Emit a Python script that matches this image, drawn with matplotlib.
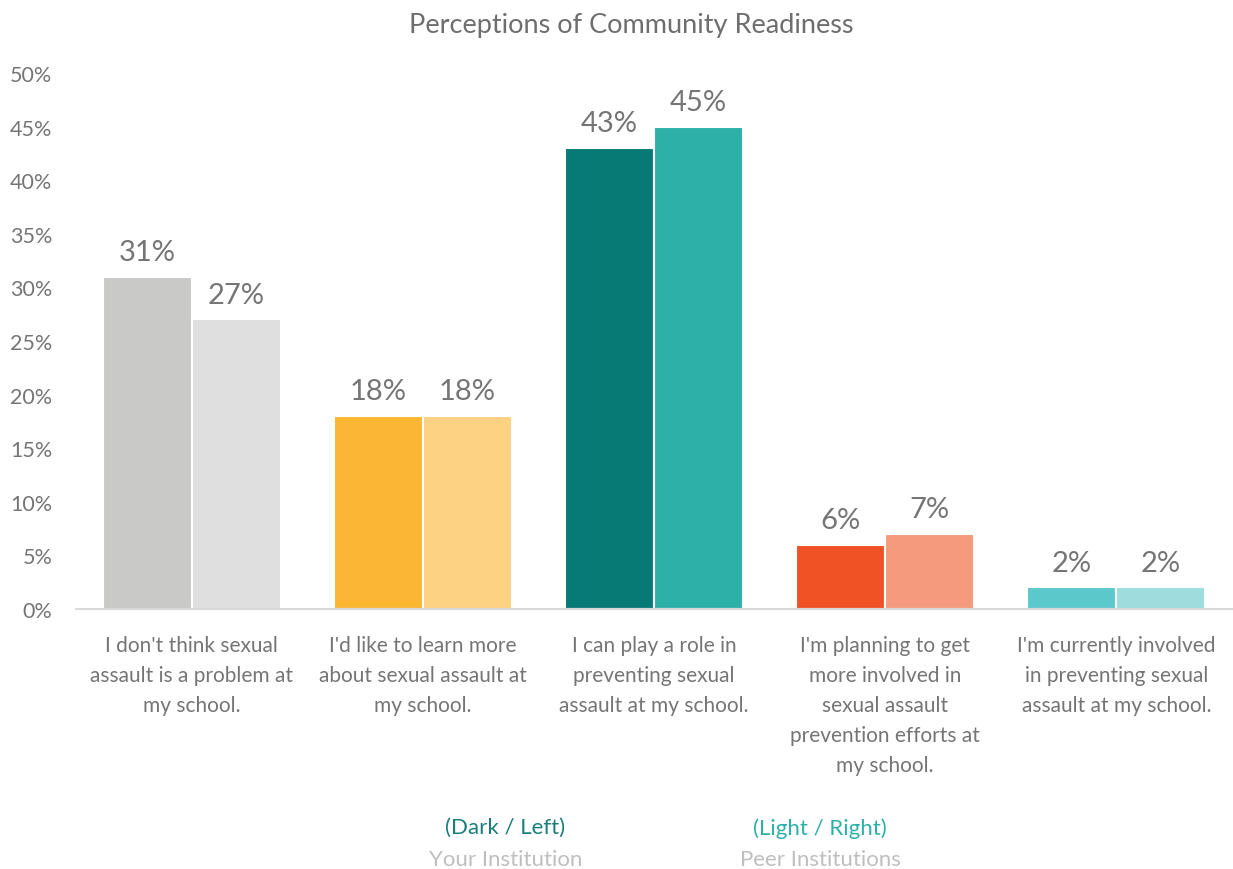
import matplotlib
matplotlib.use("Agg")
import matplotlib.pyplot as plt
import numpy as np

plt.rcParams['font.family'] = ['Lato', 'DejaVu Sans']

categories = ["I don't think sexual\nassault is a problem at\nmy school.",
              "I'd like to learn more\nabout sexual assault at\nmy school.",
              "I can play a role in\npreventing sexual\nassault at my school.",
              "I'm planning to get\nmore involved in\nsexual assault\nprevention efforts at\nmy school.",
              "I'm currently involved\nin preventing sexual\nassault at my school."]
your_inst = [31, 18, 43, 6, 2]
peer_inst = [27, 18, 45, 7, 2]
dark_colors = ["#C9C9C7", "#FBB634", "#077A76", "#F05125", "#5BC8CB"]
light_colors = ["#DFDFDF", "#FDD283", "#2DB0A8", "#F59A7D", "#9EDDDD"]

fig = plt.figure(figsize=(12.33, 8.7), dpi=100)
ax = fig.add_axes([0.0616, 0.299, 0.9375, 0.616])

x = np.arange(len(categories))
w = 0.385
ax.bar(x - w/2, your_inst, w, color=dark_colors, edgecolor="white", linewidth=1.5)
ax.bar(x + w/2, peer_inst, w, color=light_colors, edgecolor="white", linewidth=1.5)

for i in range(len(categories)):
    ax.text(x[i] - w/2, your_inst[i] + 1.1, "%d%%" % your_inst[i], ha="center", va="bottom",
            fontsize=21, color="#757575")
    ax.text(x[i] + w/2, peer_inst[i] + 1.1, "%d%%" % peer_inst[i], ha="center", va="bottom",
            fontsize=21, color="#757575")

ax.set_xlim(-0.5, 4.5)
ax.set_ylim(0, 50)
ax.set_yticks(range(0, 51, 5))
ax.set_yticklabels(["%d%%" % v for v in range(0, 51, 5)], fontsize=15.5, color="#757575")
ax.set_xticks(x)
ax.set_xticklabels(categories, fontsize=15, color="#757575", linespacing=1.62)
ax.tick_params(axis="both", length=0)
ax.tick_params(axis="x", pad=19)
ax.tick_params(axis="y", pad=17)
for s in ["top", "right", "left"]:
    ax.spines[s].set_visible(False)
ax.spines["bottom"].set_color("#D9D9D9")
ax.spines["bottom"].set_linewidth(1.5)

fig.text(0.512, 0.971, "Perceptions of Community Readiness", ha="center", va="center",
         fontsize=19.5, color="#6E6E6E")

fig.text(0.41, 0.048, "(Dark / Left)", ha="center", va="center", fontsize=16, color="#1A7F7A")
fig.text(0.41, 0.012, "Your Institution", ha="center", va="center", fontsize=16, color="#BFBFBF")
fig.text(0.665, 0.048, "(Light / Right)", ha="center", va="center", fontsize=16, color="#2DB0A8")
fig.text(0.665, 0.012, "Peer Institutions", ha="center", va="center", fontsize=16, color="#BFBFBF")

fig.savefig("out.png", dpi=100)
